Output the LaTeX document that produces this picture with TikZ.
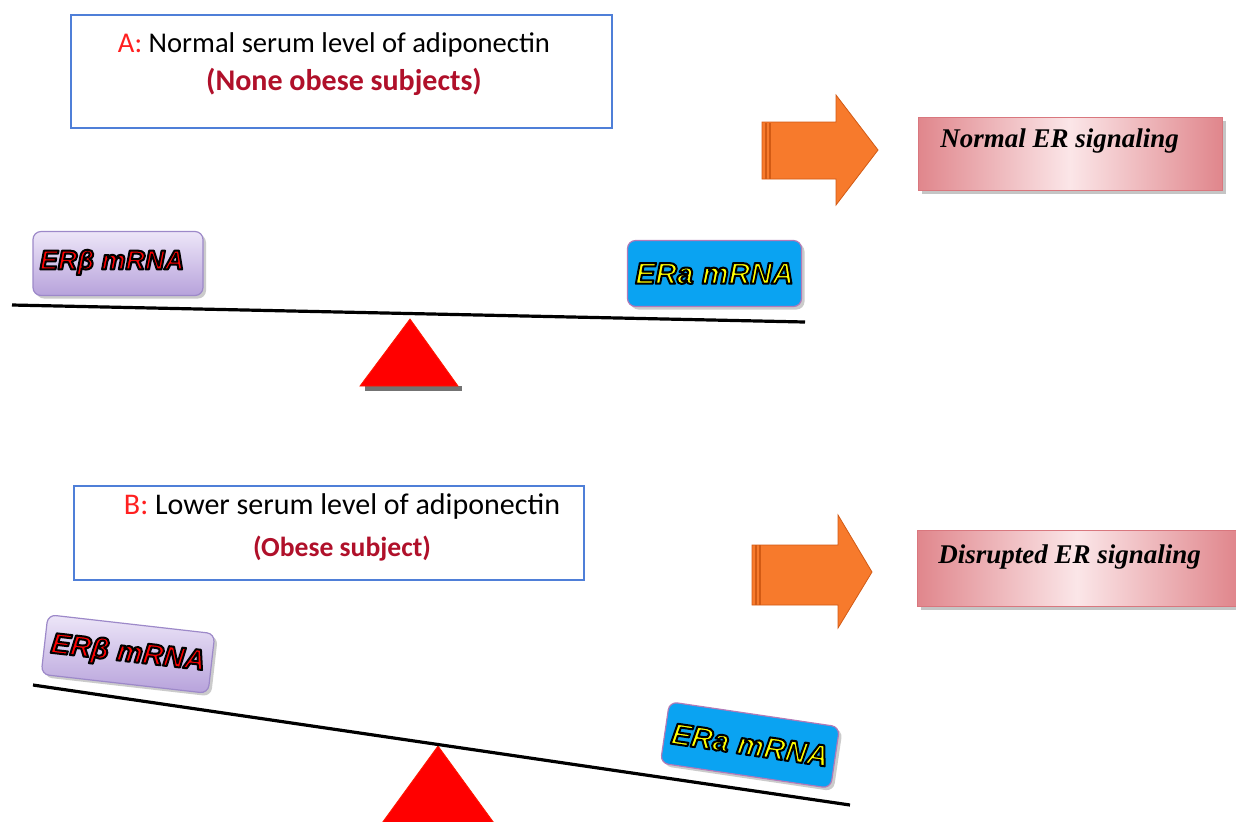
\documentclass[tikz,border=0pt]{standalone}
\usepackage{fontspec}
\setmainfont{Carlito}
\newfontfamily\timesf{Liberation Serif}
\newfontfamily\arialf{Liberation Sans}
\usetikzlibrary{shadows}
\definecolor{boxblue}{HTML}{4F7FD8}
\definecolor{darkred}{HTML}{B0102A}
\definecolor{labred}{HTML}{FF2020}
\definecolor{pinkd}{HTML}{E0868C}
\definecolor{pinkl}{HTML}{FBE6E8}
\definecolor{pinkedge}{HTML}{D9777E}
\definecolor{lavl}{HTML}{EDE6F8}
\definecolor{lavd}{HTML}{B7A2DB}
\definecolor{lavedge}{HTML}{9D89C9}
\definecolor{erablue}{HTML}{0AA3F2}
\definecolor{eraedge}{HTML}{B27AB8}
\definecolor{orng}{HTML}{F77A2C}
\definecolor{orngd}{HTML}{D25A14}
% outlined text: fill colour #1 (rgb triple), black stroke
\newcommand{\outl}[2]{\special{pdf:bcolor [#1] [0 0 0]}\special{pdf:literal direct 2 Tr 1 w 1 j}#2\special{pdf:literal direct 0 Tr 0 j}\special{pdf:ecolor}}
\tikzset{
  titlebox/.style={draw=boxblue, line width=0.7pt, fill=white, inner sep=0pt},
  titletext/.style={inner sep=0pt},
  subtext/.style={text=darkred, inner sep=0pt},
  resultbox/.style={draw=pinkedge, line width=0.5pt, left color=pinkd, right color=pinkd, middle color=pinkl,
     drop shadow={shadow xshift=2pt, shadow yshift=-2pt, fill=black!45}, inner sep=0pt},
  resulttext/.style={font=\timesf\fontsize{13.5}{15}\selectfont\bfseries\itshape, inner sep=0pt, anchor=west},
  betabox/.style={draw=lavedge, line width=0.6pt, rounded corners=4pt, top color=lavl, bottom color=lavd,
     drop shadow={shadow xshift=1.5pt, shadow yshift=-1.5pt, fill=black!40},
     minimum width=85pt, minimum height=32pt, inner sep=0pt,
     font=\arialf\fontsize{13.5}{15}\selectfont\bfseries\itshape},
  alphabox/.style={draw=eraedge, line width=0.6pt, rounded corners=4pt, fill=erablue,
     drop shadow={shadow xshift=1.5pt, shadow yshift=-1.5pt, fill=black!40},
     minimum width=87pt, minimum height=33pt, inner sep=0pt,
     font=\arialf\fontsize{15}{17}\selectfont\bfseries\itshape},
  beam/.style={line width=1.6pt, black},
  fulcrum/.style={fill=red, draw=red!80!orange, line width=0.4pt},
  fshadow/.style={fill=black!55},
  arrowbody/.style={fill=orng, draw=orngd, line width=0.4pt},
}
\begin{document}
\begin{tikzpicture}[x=0.5pt,y=-0.5pt]
\useasboundingbox[fill=white] (0,0) rectangle (1236,821);

% ---------------- Panel A ----------------
\node[titlebox, minimum width=270.5pt, minimum height=56.5pt] (boxA) at (341.5,71.5) {};
\node[titletext, font=\fontsize{14.3}{16}\selectfont] (titleA) at (334,45) {\textcolor{labred}{A:} Normal serum level of adiponectin};
\node[subtext, font=\fontsize{15}{17}\selectfont\bfseries] (subA) at (344,82) {(None obese subjects)};

% orange arrow A
\coordinate (arA) at (762,150);
\draw[arrowbody] ([shift={(0,-28)}]arA) -- ++(74,0) -- ++(0,-27) -- (878,150) -- (836,205)
   -- (836,179) -- ([shift={(0,29)}]arA) -- cycle;
\draw[orngd, line width=0.6pt] (766,123) -- (766,179) (770,123) -- (770,179);
\node[resultbox, minimum width=152pt, minimum height=36.5pt] (resA) at (1070,153.5) {};
\node[resulttext] (resAt) at (940,141) {Normal ER signaling};

% balance A
\coordinate (bA1) at (12,305);
\coordinate (bA2) at (805,322);
\coordinate (tA) at (410,319);
\fill[fshadow] (365,386) -- (462,386) -- (462,391) -- (365,391) -- cycle;
\draw[fulcrum] (tA) -- (458,386) -- (360,386) -- cycle;
\draw[beam] (bA1) -- (bA2);
\node[betabox] (betaA) at (118,263.5) {\hspace*{-6pt}\raisebox{4pt}{\outl{1 0 0}{ERβ mRNA}}};
\node[alphabox] (alphaA) at (714.5,273.5) {\outl{1 1 0}{ERa mRNA}};

% ---------------- Panel B ----------------
\node[titlebox, minimum width=255pt, minimum height=47pt] (boxB) at (329,533) {};
\node[titletext, font=\fontsize{15}{17}\selectfont] (titleB) at (342,506) {\textcolor{labred}{B:} Lower serum level of adiponectin};
\node[subtext, font=\fontsize{13.8}{16}\selectfont\bfseries] (subB) at (342,549) {(Obese subject)};

% orange arrow B
\coordinate (arB) at (752,575);
\draw[arrowbody] ([shift={(0,-30)}]arB) -- ++(86,0) -- ++(0,-30) -- (872,572) -- (838,628)
   -- (838,605) -- ([shift={(0,30)}]arB) -- cycle;
\draw[orngd, line width=0.6pt] (756,545) -- (756,605) (760,545) -- (760,605);
\node[resultbox, minimum width=160pt, minimum height=38pt] (resB) at (1077,568) {};
\node[resulttext] (resBt) at (938,557) {Disrupted ER signaling};

% balance B
\coordinate (bB1) at (33,685);
\coordinate (bB2) at (850,805);
\coordinate (tB) at (438,746);
\draw[fulcrum] (tB) -- (494,823) -- (382,823) -- cycle;
\draw[beam] (bB1) -- (bB2);
\node[betabox, rotate=-6.5, minimum width=84pt, minimum height=30pt, font=\arialf\fontsize{14.5}{16}\selectfont\bfseries\itshape] (betaB) at (128,654) {\outl{1 0 0}{ERβ mRNA}};
\node[alphabox, rotate=-8.4, minimum width=86pt, minimum height=31pt] (alphaB) at (750,745) {\outl{1 1 0}{ERa mRNA}};
\end{tikzpicture}
\end{document}
